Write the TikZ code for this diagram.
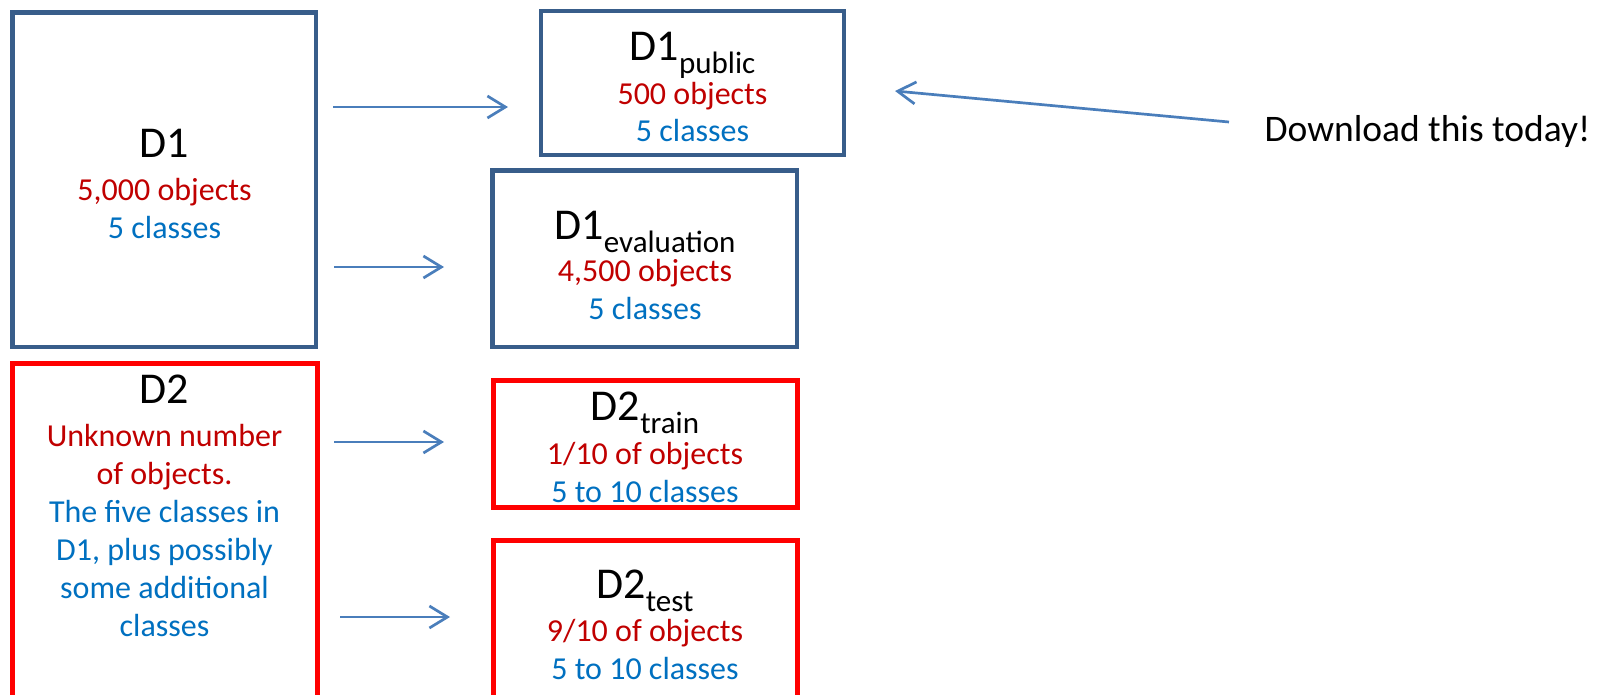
\documentclass[tikz,border=0pt]{standalone}
\usepackage{fontspec}
\setmainfont{Carlito}
\usetikzlibrary{arrows.meta}
\definecolor{boxblue}{HTML}{385D8A}
\definecolor{arrblue}{HTML}{4A7EBB}
\definecolor{txtred}{HTML}{C00000}
\definecolor{txtblue}{HTML}{0070C0}
\newcommand{\dsub}[1]{\raisebox{-13pt}{\fontsize{31}{31}\selectfont #1}}
\begin{document}
\begin{tikzpicture}[x=1pt,y=-1pt,
  setbox/.style={draw=boxblue,line width=4.5pt,inner sep=0pt},
  subbox/.style={draw=red,line width=5pt,inner sep=0pt},
  title/.style={anchor=base,font=\fontsize{44}{44}\selectfont},
  redtxt/.style={anchor=base,align=center,text=txtred,font=\fontsize{32}{38}\selectfont},
  bluetxt/.style={anchor=base,align=center,text=txtblue,font=\fontsize{32}{38}\selectfont},
  arr/.style={-{Straight Barb[length=18pt,width=22pt]},arrblue,line width=2.7pt}]
\clip (0,0) rectangle (1600,694);
% boxes
\node[setbox,minimum width=303.5pt,minimum height=334.5pt] (d1) at (164.25,179.75) {};
\node[setbox,minimum width=303pt,minimum height=144pt] (pub) at (692.5,83) {};
\node[setbox,minimum width=304.5pt,minimum height=176.5pt] (eval) at (644.75,258.75) {};
\node[subbox,minimum width=305pt,minimum height=357pt] (d2) at (164.5,541.5) {};
\node[subbox,minimum width=304pt,minimum height=127pt] (train) at (645,443.5) {};
\node[subbox,minimum width=304pt,minimum height=180pt] (test) at (645,630) {};
% texts (base of a multi-line node is its last line)
\node[title] (d1t) at (164.5,157) {D1};
\node[redtxt] (d1r) at (164.5,200) {5,000 objects};
\node[bluetxt] (d1b) at (164.5,238) {5 classes};
\node[title] (pubt) at (692.5,60) {D1\dsub{public}};
\node[redtxt] (pubr) at (692.5,104) {500 objects};
\node[bluetxt] (pubb) at (692.5,141) {5 classes};
\node[title] (evalt) at (645,239) {D1\dsub{evaluation}};
\node[redtxt] (evalr) at (645,281) {4,500 objects};
\node[bluetxt] (evalb) at (645,319) {5 classes};
\node[title] (d2t) at (164.5,403) {D2};
\node[redtxt] (d2r) at (164.5,484) {Unknown number\\of objects.};
\node[bluetxt] (d2b) at (164.5,636) {The five classes in\\D1, plus possibly\\some additional\\classes};
\node[title] (traint) at (645,420) {D2\dsub{train}};
\node[redtxt] (trainr) at (645,464) {1/10 of objects};
\node[bluetxt] (trainb) at (645,502) {5 to 10 classes};
\node[title] (testt) at (645,598) {D2\dsub{test}};
\node[redtxt] (testr) at (645,641) {9/10 of objects};
\node[bluetxt] (testb) at (645,679) {5 to 10 classes};
\node[anchor=base west,font=\fontsize{37.5}{37.5}\selectfont] (dl) at (1261,141) {Download this today!};
% arrows
\coordinate (a1) at (333,107);
\coordinate (b1) at (508,107);
\coordinate (a2) at (334,267);
\coordinate (b2) at (444,267);
\coordinate (a3) at (334,442);
\coordinate (b3) at (444,442);
\coordinate (a4) at (340,617);
\coordinate (b4) at (450,617);
\coordinate (a5) at (1229,122);
\coordinate (b5) at (895,91);
\draw[arr] (a1) -- (b1);
\draw[arr] (a2) -- (b2);
\draw[arr] (a3) -- (b3);
\draw[arr] (a4) -- (b4);
\draw[arr] (a5) -- (b5);
\end{tikzpicture}
\end{document}
